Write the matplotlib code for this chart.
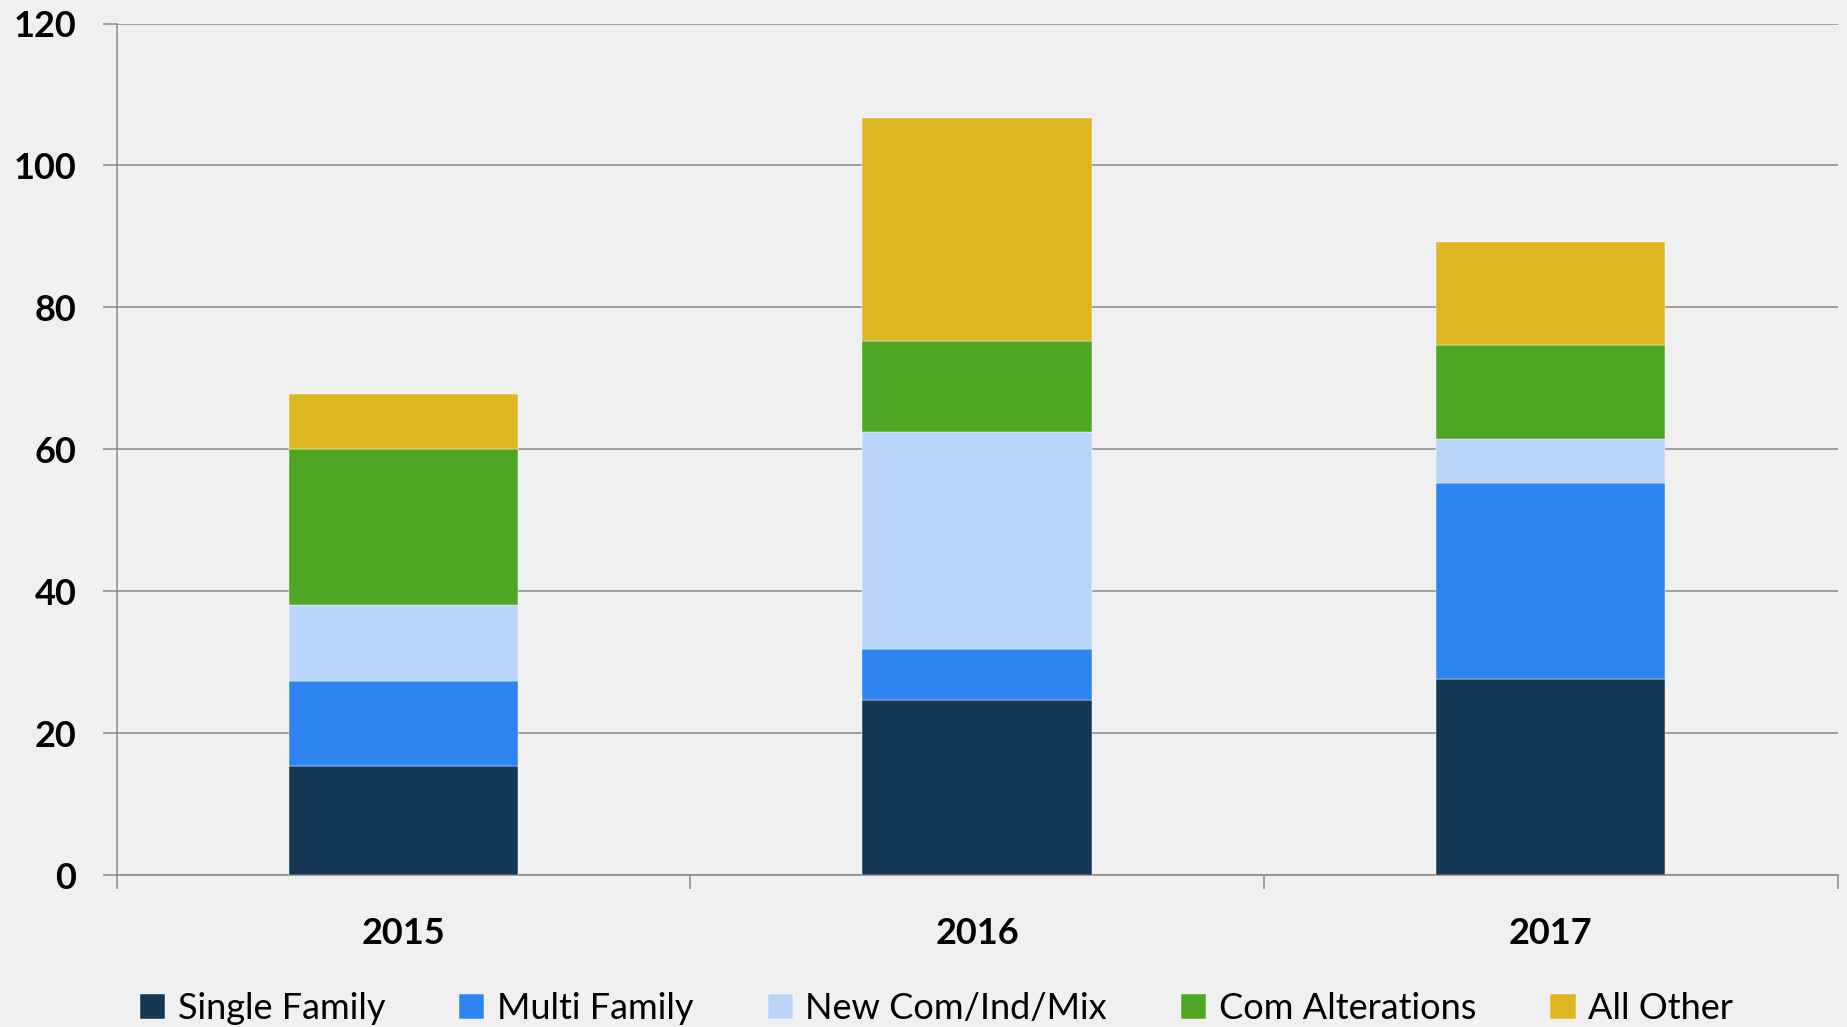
import numpy as np
import matplotlib.pyplot as plt
from matplotlib.ticker import FixedLocator

plt.rcParams['font.family'] = ['Lato', 'DejaVu Sans']

years = ['2015', '2016', '2017']
series_names = ['Single Family', 'Multi Family', 'New Com/Ind/Mix', 'Com Alterations', 'All Other']
single_family = [15.4, 24.6, 27.6]
multi_family = [12.0, 7.3, 27.6]
new_com = [10.7, 30.5, 6.3]
com_alterations = [22.0, 12.8, 13.2]
all_other = [7.7, 31.5, 14.5]
colors = ['#143855', '#2E85F2', '#B9D5FA', '#50A625', '#DDB621']

bg = '#F0F0F0'
grid_col = '#898989'

fig = plt.figure(figsize=(18.47, 10.27), dpi=100, facecolor=bg)
ax = fig.add_axes([0.0631, 0.148, 0.9318, 0.8291], facecolor=bg)

x = np.arange(len(years))
bottom = np.zeros(len(years))
for name, vals, col in zip(series_names,
                           [single_family, multi_family, new_com, com_alterations, all_other],
                           colors):
    ax.bar(x, vals, width=0.4, bottom=bottom, color=col, label=name,
           edgecolor='white', linewidth=0.3, zorder=3)
    bottom += np.array(vals)

ax.set_xlim(-0.5, 2.5)
ax.set_ylim(0, 120)
ax.set_yticks(np.arange(0, 121, 20))
ax.yaxis.grid(True, color=grid_col, linewidth=1.1, zorder=0)
ax.set_axisbelow(True)

for s in ['top', 'right']:
    ax.spines[s].set_visible(False)
for s in ['left', 'bottom']:
    ax.spines[s].set_color(grid_col)
    ax.spines[s].set_linewidth(1.1)

ax.set_xticks(x)
ax.set_xticklabels(years, fontsize=26, fontweight='bold')
ax.xaxis.set_minor_locator(FixedLocator([-0.5, 0.5, 1.5, 2.5]))
ax.tick_params(axis='x', which='major', length=0, pad=30)
ax.tick_params(axis='x', which='minor', length=10, width=1.1, color=grid_col)
ax.tick_params(axis='y', length=10, width=1.1, color=grid_col, pad=19,
               labelsize=26)
for lab in ax.get_yticklabels():
    lab.set_fontweight('bold')

leg = fig.legend(loc='center', bbox_to_anchor=(0.507, 0.018), ncol=5,
                 frameon=False, fontsize=26, handlelength=0.7, handleheight=0.7,
                 handletextpad=0.35, columnspacing=2.05)

fig.savefig('out.png', dpi=100, facecolor=bg)
